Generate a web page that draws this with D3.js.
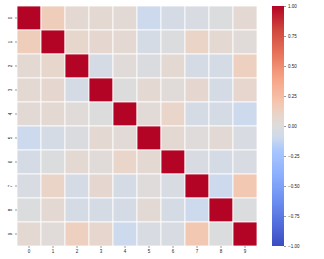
<!DOCTYPE html>
<html>
<head>
<meta charset="utf-8">
<script src="https://cdn.jsdelivr.net/npm/d3@7"></script>
<style>
  body { margin: 0; background: #fff; }
</style>
</head>
<body>
<div id="chart"></div>
<script>
// labels for rows / columns
const labels = ["0", "1", "2", "3", "4", "5", "6", "7", "8", "9"];

// correlation matrix
const row0 = [1.00, 0.15, 0.05, 0.05, 0.04, -0.10, -0.05, -0.03, -0.01, 0.05];
const row1 = [0.15, 1.00, 0.08, 0.06, 0.05, -0.05, -0.01, 0.10, 0.05, 0.02];
const row2 = [0.05, 0.08, 1.00, -0.05, 0.02, -0.02, 0.05, -0.05, -0.05, 0.13];
const row3 = [0.05, 0.06, -0.05, 1.00, 0.00, 0.05, 0.02, 0.06, -0.05, 0.07];
const row4 = [0.04, 0.05, 0.02, 0.00, 1.00, 0.03, 0.09, -0.05, -0.05, -0.10];
const row5 = [-0.10, -0.05, -0.02, 0.05, 0.03, 1.00, 0.05, 0.01, 0.04, -0.03];
const row6 = [-0.05, -0.01, 0.05, 0.02, 0.09, 0.05, 1.00, -0.03, -0.05, -0.03];
const row7 = [-0.03, 0.10, -0.05, 0.06, -0.05, 0.01, -0.03, 1.00, -0.10, 0.18];
const row8 = [-0.01, 0.05, -0.05, -0.05, -0.05, 0.04, -0.05, -0.10, 1.00, -0.01];
const row9 = [0.05, 0.02, 0.13, 0.07, -0.10, -0.03, -0.03, 0.18, -0.01, 1.00];
const matrix = [row0, row1, row2, row3, row4, row5, row6, row7, row8, row9];

const cbarTicks = [-1, -0.75, -0.5, -0.25, 0, 0.25, 0.5, 0.75, 1];

// rough coolwarm
const stops = [0, 0.1, 0.2, 0.3, 0.4, 0.45, 0.5, 0.55, 0.6, 0.7, 0.8, 0.9, 1];
const colorStops = ["#3b4cc0", "#5470de", "#6f92f3", "#8db0fe", "#aac7fd", "#cdd9ec",
  "#dddcdc", "#ead4c8", "#f4c5ad", "#f6a385", "#e7745b", "#d0473d", "#b40426"];
const color = d3.scaleLinear()
  .domain(stops.map(s => -1 + 2 * s))
  .range(colorStops)
  .interpolate(d3.interpolateRgb)
  .clamp(true);

const width = 324, height = 259;
const svg = d3.select("#chart").append("svg")
  .attr("width", width)
  .attr("height", height)
  .style("font-family", "'DejaVu Sans', sans-serif");

const mLeft = 17, mTop = 6, size = 240;

const x = d3.scaleBand().domain(labels).range([mLeft, mLeft + size]);
const y = d3.scaleBand().domain(labels).range([mTop, mTop + size]);

const cells = [];
matrix.forEach((row, i) => {
  row.forEach((v, j) => cells.push({r: labels[i], c: labels[j], v: v}));
});

svg.append("g").selectAll("rect")
  .data(cells)
  .enter()
  .append("rect")
  .attr("x", d => x(d.c))
  .attr("y", d => y(d.r))
  .attr("width", x.bandwidth())
  .attr("height", y.bandwidth())
  .attr("fill", d => color(d.v))
  .attr("stroke", "#fff")
  .attr("stroke-width", 0.8);

// x axis
const xAxis = svg.append("g")
  .attr("transform", "translate(0," + (mTop + size) + ")")
  .call(d3.axisBottom(x).tickSize(2).tickPadding(2));
xAxis.select(".domain").remove();
xAxis.selectAll("line").attr("stroke", "#333").attr("stroke-width", 0.5);
xAxis.selectAll("text").attr("font-size", 4.5).attr("fill", "#222");

// y axis, rotated labels
const yAxis = svg.append("g")
  .attr("transform", "translate(" + mLeft + ",0)")
  .call(d3.axisLeft(y).tickSize(2).tickPadding(2));
yAxis.select(".domain").remove();
yAxis.selectAll("line").attr("stroke", "#333").attr("stroke-width", 0.5);
yAxis.selectAll("text")
  .attr("font-size", 4.5)
  .attr("fill", "#222")
  .attr("x", null)
  .attr("dy", null)
  .attr("text-anchor", "middle")
  .attr("transform", "translate(-5,0) rotate(-90)");

// colorbar
const cbX = 272, cbW = 12;
const cbScale = d3.scaleLinear().domain([-1, 1]).range([mTop + size, mTop]);
const grad = svg.append("defs").append("linearGradient")
  .attr("id", "cb")
  .attr("x1", 0).attr("y1", 1).attr("x2", 0).attr("y2", 0);
d3.range(0, 1.0001, 0.02).forEach(t => {
  grad.append("stop")
    .attr("offset", t)
    .attr("stop-color", color(-1 + 2 * t));
});
svg.append("rect")
  .attr("x", cbX)
  .attr("y", mTop)
  .attr("width", cbW)
  .attr("height", size)
  .attr("fill", "url(#cb)");

const cbAxis = svg.append("g")
  .attr("transform", "translate(" + (cbX + cbW) + ",0)")
  .call(d3.axisRight(cbScale).tickValues(cbarTicks).tickSize(2).tickPadding(2)
    .tickFormat(d => d3.format(".2f")(d).replace("-", "\u2212")));
cbAxis.select(".domain").remove();
cbAxis.selectAll("line").attr("stroke", "#333").attr("stroke-width", 0.5);
cbAxis.selectAll("text").attr("font-size", 4.5).attr("fill", "#222");
</script>
</body>
</html>
